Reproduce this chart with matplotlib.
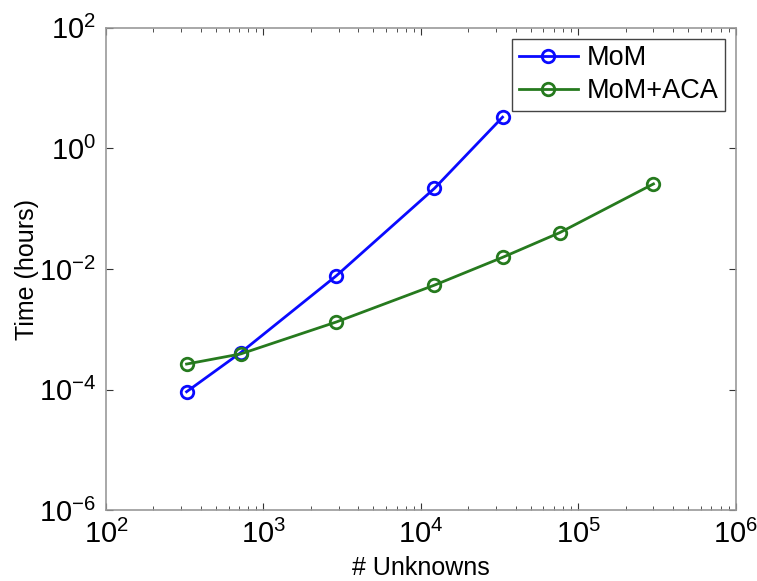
import matplotlib
matplotlib.use('Agg')
import matplotlib.pyplot as plt
from matplotlib.ticker import LogLocator, NullFormatter, NullLocator

plt.rcParams['font.family'] = ['Liberation Sans', 'DejaVu Sans']
plt.rcParams['mathtext.fontset'] = 'custom'
plt.rcParams['mathtext.rm'] = 'Liberation Sans'

# data
mom_n = [325, 717, 2900, 12200, 33000]
mom_t = [9.2e-5, 4.1e-4, 7.7e-3, 0.218, 3.3]
aca_n = [325, 717, 2900, 12200, 33000, 76000, 300000]
aca_t = [2.65e-4, 3.9e-4, 1.32e-3, 5.4e-3, 0.0156, 0.040, 0.258]

fig = plt.figure(figsize=(7.57, 5.81), dpi=100)
ax = fig.add_axes([0.140, 0.122, 0.832, 0.830])

ax.plot(mom_n, mom_t, '-o', color='#0a0aff', lw=2, ms=9, mfc='none', mew=2, label='MoM')
ax.plot(aca_n, aca_t, '-o', color='#267a1e', lw=2, ms=9, mfc='none', mew=2, label='MoM+ACA')

ax.set_xscale('log')
ax.set_yscale('log')
ax.set_xlim(1e2, 1e6)
ax.set_ylim(1e-6, 1e2)
ax.set_xticks([1e2, 1e3, 1e4, 1e5, 1e6])
ax.set_yticks([1e-6, 1e-4, 1e-2, 1e0, 1e2])
ax.xaxis.set_minor_locator(LogLocator(base=10, subs=range(2, 10), numticks=20))
ax.xaxis.set_minor_formatter(NullFormatter())
ax.yaxis.set_minor_locator(NullLocator())

ax.tick_params(which='both', direction='in', top=True, right=True, color='#333333')
ax.tick_params(which='major', length=5, labelsize=21, pad=7)
ax.tick_params(which='minor', length=3)
for s in ax.spines.values():
    s.set_color('#999999')
    s.set_linewidth(1.2)

ax.set_xlabel('# Unknowns', fontsize=18, labelpad=5)
ax.set_ylabel('Time (hours)', fontsize=18, labelpad=0)

leg = ax.legend(loc='upper right', fontsize=19.5, fancybox=False, framealpha=1,
                edgecolor='#444444', borderaxespad=0.4, handlelength=2.2,
                handletextpad=0.3, borderpad=0.25, labelspacing=0.25)
leg.get_frame().set_linewidth(1.0)

fig.savefig('out.png', dpi=100)
